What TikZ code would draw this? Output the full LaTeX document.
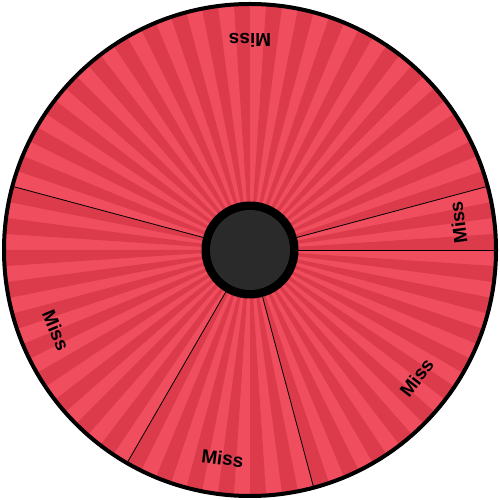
\documentclass[tikz,border=0pt]{standalone}
\usepackage{fontspec}
\setmainfont{Liberation Sans}
\definecolor{stripelight}{HTML}{F04E5E}
\definecolor{stripedark}{HTML}{DC3B4B}
\definecolor{hubgray}{HTML}{2A2A2A}
\begin{document}
\begin{tikzpicture}[x=1pt,y=1pt,
  seglabel/.style={font=\bfseries\fontsize{19}{19}\selectfont, text=black, inner sep=0pt},
  divider/.style={draw=black, line width=0.8pt},
  rim/.style={draw=black, line width=4pt}]
\useasboundingbox (0,0) rectangle (500,500);
\coordinate (c) at (250,250);
\fill[stripelight] (c) circle[radius=246];
\foreach \k in {0,2,...,94}{
  \fill[stripedark] (c) -- ++(\k*3.75:246) arc[start angle=\k*3.75, end angle=\k*3.75+3.75, radius=246] -- cycle;
}
\foreach \a in {0,15,165,240,285}{
  \draw[divider] (c) -- ++(\a:246);
}
\draw[rim] (c) circle[radius=246];
\fill[black] (c) circle[radius=48.5];
\fill[hubgray] (c) circle[radius=40];
\foreach \a/\n in {7.5/lA,90/lB,202.5/lC,262.5/lD,322.5/lE}{
  \node[seglabel, rotate=\a+90] (\n) at ([shift={(\a:210)}]c) {Miss};
}
\end{tikzpicture}
\end{document}
